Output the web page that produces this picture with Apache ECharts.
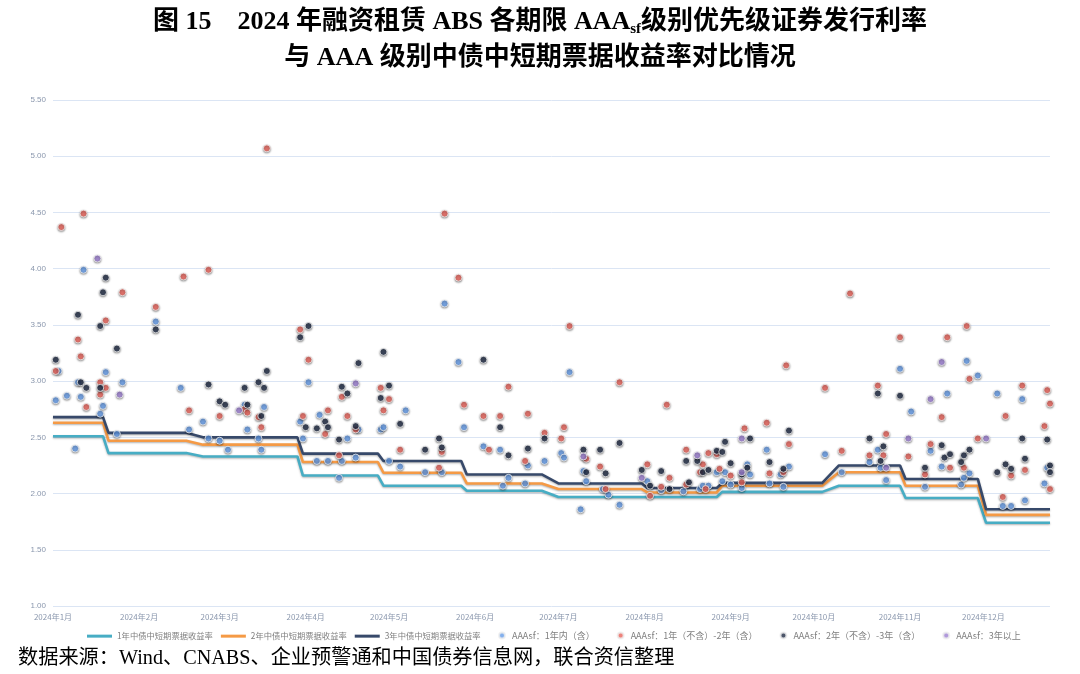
<!DOCTYPE html>
<html><head><meta charset="utf-8">
<script src="https://cdn.jsdelivr.net/npm/echarts@6/dist/echarts.min.js"></script>
<style>html,body{margin:0;padding:0;background:#fff}#c{width:1080px;height:674px}</style>
</head><body><div id="c"></div>
<script>
// ---- data ----
const monthTicks = ['2024-01-01','2024-02-01','2024-03-01','2024-04-01','2024-05-01','2024-06-01','2024-07-01','2024-08-01','2024-09-01','2024-10-01','2024-11-01','2024-12-01'];
const xMin = '2024-01-01', xMax = '2024-12-25';
const yTicks = [1.0, 5.5, 0.5]; // min, max, step

const lineDates = ['2024-01-01','2024-01-19','2024-01-21','2024-02-18','2024-02-24','2024-03-29','2024-03-31','2024-04-27','2024-04-29','2024-05-27','2024-05-29','2024-06-25','2024-07-01','2024-07-31','2024-08-02','2024-08-27','2024-08-29','2024-10-04','2024-10-10','2024-11-01','2024-11-03','2024-11-29','2024-12-02','2024-12-25'];
const yield1Y = [2.51,2.51,2.36,2.36,2.33,2.33,2.16,2.16,2.07,2.07,2.025,2.025,1.97,1.97,1.97,1.97,2.015,2.015,2.07,2.07,1.96,1.96,1.74,1.74];
const yield2Y = [2.63,2.63,2.47,2.47,2.435,2.435,2.28,2.28,2.185,2.185,2.09,2.09,2.04,2.04,2.01,2.01,2.07,2.07,2.19,2.19,2.07,2.07,1.81,1.81];
const yield3Y = [2.68,2.68,2.54,2.54,2.50,2.50,2.355,2.355,2.29,2.29,2.17,2.17,2.09,2.09,2.05,2.05,2.095,2.095,2.25,2.25,2.13,2.13,1.86,1.86];

const absWithin1Y = [['2024-01-02',2.83],['2024-01-03',3.09],['2024-01-06',2.87],['2024-01-09',2.40],['2024-01-10',2.99],['2024-01-11',2.86],['2024-01-12',3.99],['2024-01-18',2.71],['2024-01-19',2.78],['2024-01-20',3.08],['2024-01-24',2.53],['2024-01-26',2.99],
['2024-02-07',3.53],['2024-02-16',2.94],['2024-02-19',2.57],['2024-02-24',2.64],['2024-02-26',2.49],
['2024-03-01',2.47],['2024-03-04',2.39],['2024-03-10',2.79],['2024-03-11',2.57],['2024-03-15',2.49],['2024-03-16',2.39],['2024-03-17',2.77],['2024-03-30',2.64],['2024-03-31',2.49],
['2024-04-02',2.99],['2024-04-05',2.29],['2024-04-06',2.70],['2024-04-09',2.29],['2024-04-13',2.14],['2024-04-14',2.29],['2024-04-16',2.49],['2024-04-19',2.32],['2024-04-20',2.57],['2024-04-28',2.57],['2024-04-29',2.59],
['2024-05-01',2.29],['2024-05-05',2.24],['2024-05-07',2.74],['2024-05-14',2.19],['2024-05-20',2.19],['2024-05-21',3.69],['2024-05-26',3.17],['2024-05-28',2.59],
['2024-06-04',2.42],['2024-06-10',2.39],['2024-06-11',2.07],['2024-06-13',2.14],['2024-06-19',2.09],['2024-06-20',2.25],['2024-06-26',2.29],
['2024-07-02',2.36],['2024-07-03',2.32],['2024-07-05',3.08],['2024-07-09',1.86],['2024-07-10',2.20],['2024-07-11',2.11],['2024-07-17',2.04],['2024-07-19',1.99],['2024-07-23',1.90],
['2024-08-02',2.11],['2024-08-07',2.03],['2024-08-15',2.02],['2024-08-21',2.04],['2024-08-22',2.07],['2024-08-24',2.07],['2024-08-27',2.19],['2024-08-29',2.11],['2024-08-30',2.19],['2024-09-01',2.08],
['2024-09-05',2.05],['2024-09-07',2.26],['2024-09-08',2.17],['2024-09-14',2.39],['2024-09-15',2.09],['2024-09-19',2.17],['2024-09-20',2.06],['2024-09-22',2.24],
['2024-10-05',2.35],['2024-10-11',2.19],['2024-10-21',2.28],['2024-10-24',2.39],['2024-10-25',2.23],['2024-10-27',2.12],
['2024-11-01',3.11],['2024-11-05',2.73],['2024-11-10',2.06],['2024-11-12',2.38],['2024-11-16',2.24],['2024-11-18',2.89],['2024-11-23',2.08],['2024-11-24',2.14],['2024-11-25',3.18],['2024-11-26',2.18],['2024-11-29',3.05],
['2024-12-06',2.89],['2024-12-08',1.89],['2024-12-11',1.89],['2024-12-15',2.84],['2024-12-16',1.94],['2024-12-23',2.09],['2024-12-24',2.23]];

const abs1to2Y = [['2024-01-02',3.09],['2024-01-04',4.37],['2024-01-10',3.37],['2024-01-11',3.22],['2024-01-12',4.49],['2024-01-13',2.77],['2024-01-18',2.99],['2024-01-18',2.88],['2024-01-20',2.94],['2024-01-20',3.54],['2024-01-26',3.79],
['2024-02-07',3.66],['2024-02-17',3.93],['2024-02-19',2.74],['2024-02-26',3.99],
['2024-03-01',2.69],['2024-03-10',2.75],['2024-03-11',2.72],['2024-03-15',2.68],['2024-03-16',2.59],['2024-03-18',5.07],['2024-03-30',3.46],['2024-03-31',2.69],
['2024-04-02',3.19],['2024-04-08',2.53],['2024-04-09',2.74],['2024-04-13',2.34],['2024-04-14',2.86],['2024-04-16',2.69],['2024-04-19',2.57],['2024-04-28',2.94],['2024-04-29',2.74],
['2024-05-01',2.84],['2024-05-05',2.39],['2024-05-19',2.23],['2024-05-20',2.37],['2024-05-21',4.49],['2024-05-26',3.92],['2024-05-28',2.79],
['2024-06-04',2.69],['2024-06-06',2.39],['2024-06-10',2.69],['2024-06-13',2.95],['2024-06-19',2.29],['2024-06-20',2.71],['2024-06-26',2.54],
['2024-07-02',2.49],['2024-07-03',2.59],['2024-07-05',3.49],['2024-07-11',2.31],['2024-07-16',2.24],['2024-07-18',2.04],['2024-07-23',2.99],
['2024-08-02',2.26],['2024-08-03',1.98],['2024-08-07',2.06],['2024-08-09',2.79],['2024-08-10',2.14],['2024-08-16',2.39],['2024-08-16',2.08],['2024-08-21',2.19],['2024-08-22',2.26],['2024-08-23',2.04],['2024-08-24',2.36],['2024-08-27',2.35],['2024-08-28',2.22],['2024-09-01',2.16],
['2024-09-05',2.10],['2024-09-06',2.58],['2024-09-14',2.63],['2024-09-15',2.18],['2024-09-20',2.19],['2024-09-21',3.14],['2024-09-22',2.44],
['2024-10-05',2.94],['2024-10-11',2.38],['2024-10-14',3.78],['2024-10-21',2.34],['2024-10-24',2.96],['2024-10-26',2.34],['2024-10-27',2.53],
['2024-11-01',3.39],['2024-11-04',2.33],['2024-11-10',2.17],['2024-11-12',2.44],['2024-11-16',2.68],['2024-11-18',3.39],['2024-11-19',2.23],['2024-11-24',2.23],['2024-11-25',3.49],['2024-11-26',3.02],['2024-11-29',2.49],
['2024-12-08',1.97],['2024-12-09',2.69],['2024-12-11',2.16],['2024-12-15',2.96],['2024-12-16',2.21],['2024-12-23',2.60],['2024-12-24',2.92],['2024-12-25',2.80],['2024-12-25',2.04]];

const abs2to3Y = [['2024-01-02',3.19],['2024-01-10',3.59],['2024-01-11',2.99],['2024-01-13',2.94],['2024-01-18',3.49],['2024-01-18',2.94],['2024-01-19',3.79],['2024-01-20',3.92],['2024-01-24',3.29],
['2024-02-07',3.46],['2024-02-26',2.97],
['2024-03-01',2.82],['2024-03-03',2.79],['2024-03-10',2.94],['2024-03-11',2.79],['2024-03-15',2.99],['2024-03-16',2.69],['2024-03-17',2.94],['2024-03-18',3.09],['2024-03-30',3.39],
['2024-04-01',2.59],['2024-04-02',3.49],['2024-04-05',2.58],['2024-04-08',2.64],['2024-04-09',2.59],['2024-04-13',2.48],['2024-04-14',2.95],['2024-04-16',2.89],['2024-04-19',2.60],['2024-04-20',3.16],['2024-04-28',2.85],['2024-04-29',3.26],
['2024-05-01',2.96],['2024-05-05',2.62],['2024-05-14',2.39],['2024-05-19',2.49],['2024-05-20',2.41],
['2024-06-04',3.19],['2024-06-10',2.59],['2024-06-13',2.34],['2024-06-20',2.40],['2024-06-26',2.49],
['2024-07-10',2.39],['2024-07-11',2.19],['2024-07-16',2.39],['2024-07-18',2.18],['2024-07-23',2.45],['2024-07-31',2.21],
['2024-08-03',2.07],['2024-08-07',2.20],['2024-08-10',2.04],['2024-08-16',2.29],['2024-08-17',2.10],['2024-08-20',2.29],['2024-08-22',2.19],['2024-08-24',2.21],['2024-08-27',2.38],['2024-08-29',2.37],['2024-08-30',2.46],['2024-09-01',2.27],
['2024-09-05',2.17],['2024-09-07',2.23],['2024-09-08',2.49],['2024-09-15',2.28],['2024-09-20',2.22],['2024-09-22',2.56],
['2024-10-21',2.49],['2024-10-24',2.89],['2024-10-25',2.29],['2024-10-26',2.42],
['2024-11-01',2.87],['2024-11-10',2.23],['2024-11-16',2.43],['2024-11-17',2.32],['2024-11-19',2.35],['2024-11-23',2.28],['2024-11-24',2.34],['2024-11-26',2.39],
['2024-12-06',2.19],['2024-12-09',2.26],['2024-12-11',2.22],['2024-12-15',2.49],['2024-12-16',2.31],['2024-12-24',2.48],['2024-12-25',2.25],['2024-12-25',2.19]];

const absOver3Y = [['2024-01-17',4.09],['2024-01-25',2.88],['2024-03-08',2.74],['2024-04-19',2.98],['2024-07-10',2.33],['2024-07-31',2.14],['2024-08-20',2.34],['2024-09-05',2.49],['2024-09-05',2.19],['2024-10-27',2.23],['2024-11-04',2.49],['2024-11-12',2.84],['2024-11-16',3.17],['2024-12-02',2.49]];

const lineNames = ['1年中债中短期票据收益率','2年中债中短期票据收益率','3年中债中短期票据收益率'];
const scatterNames = ['AAAsf：1年内（含）','AAAsf：1年（不含）-2年（含）','AAAsf：2年（不含）-3年（含）','AAAsf：3年以上'];

// ---- build ----
function ts(s){const p=s.split('-').map(Number);return new Date(p[0],p[1]-1,p[2]).getTime();}
const lineColors = ['#47adc4','#f59a45','#37496a'];
const dotColors = ['#659ce8','#e9635a','#1f2b44','#9c80d2'];
const lineVals = [yield1Y, yield2Y, yield3Y];
const dotSets = [absWithin1Y, abs1to2Y, abs2to3Y, absOver3Y];

const series = [];
lineVals.forEach((vals,i)=>{
  series.push({
    name: lineNames[i], type:'line', symbol:'none', z: 2,
    data: lineDates.map((d,k)=>[ts(d), vals[k]]),
    lineStyle:{width:2.6, color: lineColors[i], shadowColor:'rgba(0,0,0,0.3)', shadowBlur:2, shadowOffsetY:1},
    itemStyle:{color: lineColors[i]}
  });
});
dotSets.forEach((pts,i)=>{
  series.push({
    name: scatterNames[i], type:'scatter', symbol:'circle', symbolSize:7, z: 3, clip:false,
    data: pts.map(p=>[ts(p[0]), p[1]]),
    itemStyle:{color: dotColors[i], borderColor:'#eeeeee', borderWidth:1, shadowColor:'rgba(0,0,0,0.45)', shadowBlur:2, shadowOffsetY:1}
  });
});

const serifCJK = '"Liberation Serif","Times New Roman","Noto Sans CJK SC"';
const chart = echarts.init(document.getElementById('c'), null, {renderer:'canvas'});
chart.setOption({
  animation:false,
  backgroundColor:'#ffffff',
  title:[
    {left:'center', top:2, text:'{n|图 15　2024 年融资租赁 ABS 各期限 AAA}{s|sf}{n|级别优先级证券发行利率}',
      textStyle:{fontWeight:'bold', rich:{
        n:{fontSize:26, lineHeight:30, fontWeight:'bold', fontFamily:serifCJK, color:'#000'},
        s:{fontSize:15, lineHeight:15, fontWeight:'bold', verticalAlign:'bottom', fontFamily:serifCJK, color:'#000'}
      }}},
    {left:'center', top:38, text:'与 AAA 级别中债中短期票据收益率对比情况',
      textStyle:{fontSize:26, lineHeight:30, fontFamily:serifCJK, color:'#000', fontWeight:'bold'}}
  ],
  graphic:[{type:'text', left:18, top:649, style:{text:'数据来源：Wind、CNABS、企业预警通和中国债券信息网，联合资信整理', fontSize:20.2, fontFamily:serifCJK, fill:'#000'}}],
  grid:{left:53, right:30, top:100, bottom:68, containLabel:false},
  legend:[
    {left:82, top:627, itemGap:8, itemWidth:25, itemHeight:3,
     data:lineNames.map(n=>({name:n, icon:'rect'})),
     textStyle:{fontSize:8.3, color:'#7f7f7f', fontFamily:'"Noto Sans CJK SC"'}},
    {left:493, top:626, itemGap:22, itemWidth:10, itemHeight:6, data:scatterNames, icon:'circle',
     textStyle:{fontSize:9, color:'#7f7f7f', fontFamily:'"Noto Sans CJK SC"'}}
  ],
  xAxis:{type:'value', min:ts(xMin), max:ts(xMax),
    axisLine:{show:false}, axisTick:{show:false}, splitLine:{show:false},
    axisLabel:{customValues: monthTicks.map(ts), fontSize:8, color:'#8a97ad', margin:7, fontFamily:'"Noto Sans CJK SC"',
      formatter:(v)=>{const d=new Date(v);return d.getFullYear()+'年'+(d.getMonth()+1)+'月';}}
  },
  yAxis:{type:'value', min:yTicks[0], max:yTicks[1], interval:yTicks[2],
    axisLine:{show:false}, axisTick:{show:false},
    splitLine:{lineStyle:{color:'#dbe5f4', width:1}},
    axisLabel:{fontSize:8, color:'#8a97ad', margin:7, formatter:(v)=>v.toFixed(2)}
  },
  series
});
</script></body></html>
